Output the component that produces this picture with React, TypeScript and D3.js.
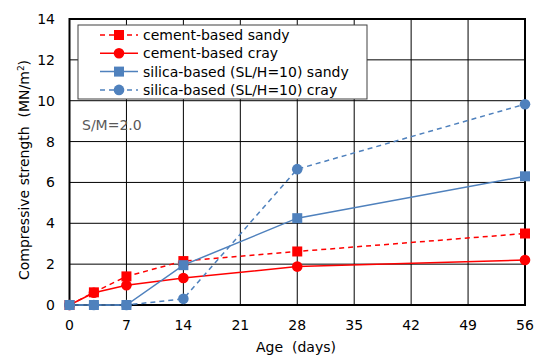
import React from "react";
import * as d3 from "d3";

const ages = [0, 3, 7, 14, 28, 56];
const cementSandy = [0, 0.62, 1.4, 2.15, 2.62, 3.5];
const cementCray = [0, 0.6, 0.97, 1.32, 1.88, 2.2];
const silicaSandy = [0, 0, 0, 1.95, 4.25, 6.3];
const silicaCray = [0, 0, 0, 0.3, 6.65, 9.83];
const xTicks = [0, 7, 14, 21, 28, 35, 42, 49, 56];
const yTicks = [0, 2, 4, 6, 8, 10, 12, 14];

const seriesNames = [
  "cement-based sandy",
  "cement-based cray",
  "silica-based (SL/H=10) sandy",
  "silica-based (SL/H=10) cray",
];

const RED = "#FF0000";
const BLUE = "#4F81BD";

const series = [
  { name: seriesNames[0], values: cementSandy, color: RED, dash: "5,4", marker: "square" },
  { name: seriesNames[1], values: cementCray, color: RED, dash: "", marker: "circle" },
  { name: seriesNames[2], values: silicaSandy, color: BLUE, dash: "", marker: "square" },
  { name: seriesNames[3], values: silicaCray, color: BLUE, dash: "5,4", marker: "circle" },
];

const FONT = "'DejaVu Sans', sans-serif";

export default function App() {
  const W = 539, H = 356;
  const left = 69.5, right = 525, top = 19, bottom = 305;
  const x = d3.scaleLinear().domain([0, 56]).range([left, right]);
  const y = d3.scaleLinear().domain([0, 14]).range([bottom, top]);
  const line = d3.line<number>().x((_, i) => x(ages[i])).y((v) => y(v));

  const marker = (kind: string, cx: number, cy: number, color: string, key: any) =>
    kind === "square" ? (
      <rect key={key} x={cx - 5} y={cy - 5} width={10} height={10} fill={color} />
    ) : (
      <circle key={key} cx={cx} cy={cy} r={5.3} fill={color} />
    );

  const legX = 78, legY = 25, legW = 289, legH = 74;
  return (
    <svg width={W} height={H} style={{ position: "absolute", left: 0, top: 0 }} fontFamily={FONT}>
      <rect width={W} height={H} fill="#fff" />
      {yTicks.map((t) => (
        <line key={"gy" + t} x1={left} x2={right} y1={y(t)} y2={y(t)} stroke="#000" strokeWidth={1} />
      ))}
      {xTicks.map((t) => (
        <line key={"gx" + t} x1={x(t)} x2={x(t)} y1={top} y2={bottom} stroke="#000" strokeWidth={1} />
      ))}
      <rect x={left} y={top} width={right - left} height={bottom - top} fill="none" stroke="#000" strokeWidth={2} />
      {yTicks.map((t) => (
        <text key={"ty" + t} x={55} y={y(t)} dy="0.36em" textAnchor="end" fontSize={14} fill="#000">
          {t}
        </text>
      ))}
      {xTicks.map((t) => (
        <text key={"tx" + t} x={x(t)} y={325} dy="0.36em" textAnchor="middle" fontSize={14} fill="#000">
          {t}
        </text>
      ))}
      <text x={296} y={347} dy="0.36em" textAnchor="middle" fontSize={14} fill="#000" style={{ whiteSpace: "pre" }}>
        Age  (days)
      </text>
      <text
        transform={`translate(24,170) rotate(-90)`}
        textAnchor="middle"
        dy="0.36em"
        fontSize={14}
        fill="#000"
        style={{ whiteSpace: "pre" }}
      >
        Compressive strength  (MN/m<tspan dy="-5" fontSize={9}>2</tspan>
        <tspan dy="5">)</tspan>
      </text>
      <text x={82} y={125} dy="0.36em" fontSize={14} fill="#595959">
        S/M=2.0
      </text>
      {series.map((s, si) => (
        <g key={"s" + si}>
          <path d={line(s.values) || ""} fill="none" stroke={s.color} strokeWidth={1.5} strokeDasharray={s.dash} />
          {s.values.map((v, i) => marker(s.marker, x(ages[i]), y(v), s.color, i))}
        </g>
      ))}
      <rect x={legX} y={legY} width={legW} height={legH} fill="#fff" stroke="#404040" strokeWidth={1} />
      {series.map((s, i) => {
        const ly = 35 + i * 18.3;
        return (
          <g key={"l" + i}>
            <line x1={100} x2={138} y1={ly} y2={ly} stroke={s.color} strokeWidth={1.5} strokeDasharray={s.dash} />
            {marker(s.marker, 119, ly, s.color, "m")}
            <text x={143} y={ly} dy="0.36em" fontSize={14} fill="#000" style={{ whiteSpace: "pre" }}>
              {s.name}
            </text>
          </g>
        );
      })}
    </svg>
  );
}
